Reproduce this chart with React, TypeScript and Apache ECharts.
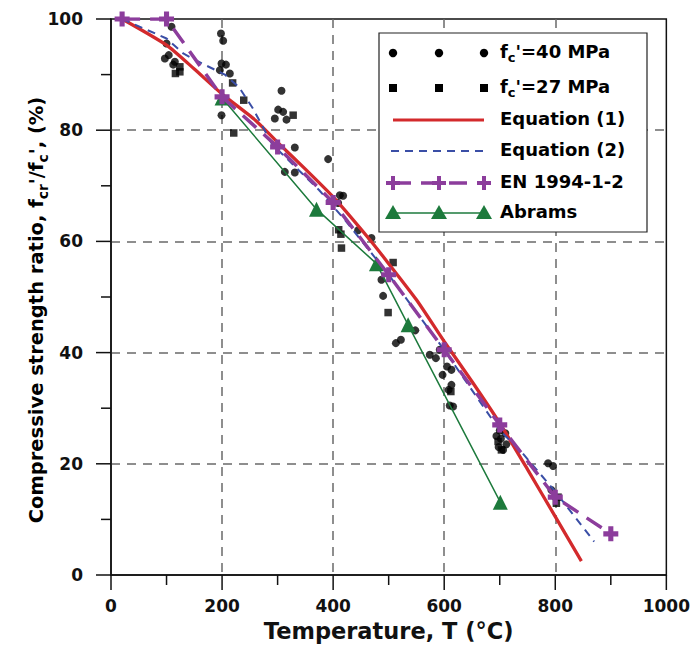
import React, { useEffect, useRef } from 'react';
import * as echarts from 'echarts';

// Test data, f_c' = 40 MPa (circles): [temperature °C, ratio %]
const fc40Data: [number, number][] = [
  [109, 98.6], [100, 95.6], [97, 92.9], [104, 93.5], [115, 92.3], [112, 91.8],
  [198, 97.4], [202, 96.1], [199, 92], [207, 91.8], [196, 90.8], [214, 90.2], [199, 82.7],
  [307, 87.1], [301, 83.7], [310, 83.3], [295, 82.1], [316, 81.9], [331, 76.9], [313, 72.5], [331, 72.4],
  [391, 74.8], [412, 68.3], [418, 68.2], [409, 66.9], [445, 62], [469, 60.6],
  [487, 53.1], [490, 50.2], [513, 41.7], [522, 42.3], [548, 44],
  [574, 39.6], [585, 39], [592, 40.5], [597, 36], [605, 37.5], [613, 36.9], [613, 34.2], [608, 33.3], [616, 30.3], [610, 30.5],
  [694, 25], [698, 23], [702, 24.5], [706, 22.5], [710, 25.5], [700, 26], [712, 23.5],
  [787, 20.1], [796, 19.6], [793, 15.3], [800, 14],
];

// Test data, f_c' = 27 MPa (squares)
const fc27Data: [number, number][] = [
  [124, 91.4], [116, 90.2], [124, 90.5],
  [219, 88.5], [239, 85.4], [221, 79.5],
  [328, 82.7],
  [414, 61.3], [410, 62.1], [415, 58.8], [508, 56.2], [499, 47.2],
  [612, 33],
  [697, 24], [703, 22.5],
  [802, 12.9], [805, 14],
];

const eq1Data: [number, number][] = [
  [20, 100], [100, 95.3], [150, 91], [200, 86.5], [260, 81.8], [300, 77.8], [350, 73],
  [400, 68], [466, 60.3], [500, 56], [550, 49.5], [600, 42], [650, 34.8], [700, 27.3],
  [750, 19], [800, 10.5], [847, 2.5],
];

const eq2Data: [number, number][] = [
  [20, 100], [100, 96.5], [130, 93.8], [170, 91.7], [205, 90], [230, 87.8], [255, 84],
  [290, 77.5], [375, 69.2], [420, 64], [500, 54], [600, 40.5], [700, 26], [736, 22.5],
  [800, 15], [870, 6],
];

const enData: [number, number][] = [
  [20, 100], [100, 100], [200, 86], [300, 77], [400, 67], [500, 54], [600, 40.5],
  [700, 27], [800, 14], [900, 7.4],
];

const abramsData: [number, number][] = [
  [200, 85.8], [370, 65.8], [478, 56], [535, 45], [701, 13.1],
];

// Axis ticks
const xMajorTicks = [0, 200, 400, 600, 800, 1000];
const xMinorTicks = [100, 300, 500, 700, 900];
const yMajorTicks = [0, 20, 40, 60, 80, 100];
const yMinorTicks = [10, 30, 50, 70, 90];

const legendLabels = [
  "{m|f}{s|c}{m|'=40 MPa}",
  "{m|f}{s|c}{m|'=27 MPa}",
  '{m|Equation (1)}',
  '{m|Equation (2)}',
  '{m|EN 1994-1-2}',
  '{m|Abrams}',
];

const xAxisName = 'Temperature, T (°C)';
const yAxisName = "{m|Compressive strength ratio, f}{s|cr}{m|'/f}{s|c}{m|', (%)}";

const FONT = 'DejaVu Sans';
const RED = '#d32a2c';
const BLUE = '#3a4ea6';
const PURPLE = '#8c3d9c';
const GREEN = '#1d7a3c';
const CROSS = 'path://M3.3,0H6.7V3.3H10V6.7H6.7V10H3.3V6.7H0V3.3H3.3Z';

function tickSeries(values: number[], horizontal: boolean, len: number) {
  return {
    type: 'custom',
    name: horizontal ? 'x ticks' : 'y ticks',
    coordinateSystem: 'cartesian2d',
    data: values.map((v) => (horizontal ? [v, 0] : [0, v])),
    clip: false,
    silent: true,
    z: 8,
    renderItem: (_params: any, api: any) => {
      const p = api.coord([api.value(0), api.value(1)]);
      const x = horizontal ? p[0] - 0.75 : p[0] - len;
      const y = horizontal ? p[1] : p[1] - 0.75;
      return {
        type: 'rect',
        shape: { x, y, width: horizontal ? 1.5 : len, height: horizontal ? len : 1.5 },
        style: { fill: '#111' },
      };
    },
  };
}

export default function App() {
  const ref = useRef<HTMLDivElement>(null);
  useEffect(() => {
    document.body.style.margin = '0';
    const chart = echarts.init(ref.current!, null, { renderer: 'svg' });

    const richText = {
      m: { fontFamily: FONT, fontWeight: 'bold', fontSize: 18, color: '#111', verticalAlign: 'top', lineHeight: 22 },
      s: { fontFamily: FONT, fontWeight: 'bold', fontSize: 13, color: '#111', verticalAlign: 'bottom', lineHeight: 13, padding: [14, 0, 0, 0] },
    };
    const richTitle = {
      m: { ...richText.m, fontSize: 19.5, lineHeight: 23 },
      s: { ...richText.s, fontSize: 14, lineHeight: 14, padding: [14, 0, 0, 0] },
    };

    const lx = [393, 439, 484];
    const rows = [53, 88, 120, 151, 183, 213];
    const legendEls: any[] = [];
    legendEls.push({
      type: 'rect', shape: { x: 379, y: 33, width: 268, height: 199 },
      style: { fill: '#fff', stroke: '#222', lineWidth: 1.2 }, z: 100,
    });
    lx.forEach((x) => {
      legendEls.push({ type: 'circle', shape: { cx: x, cy: rows[0], r: 4.2 }, style: { fill: '#000' }, z: 101 });
      legendEls.push({ type: 'rect', shape: { x: x - 4, y: rows[1] - 4, width: 8, height: 8 }, style: { fill: '#000' }, z: 101 });
    });
    legendEls.push({ type: 'line', shape: { x1: lx[0], y1: rows[2], x2: lx[2], y2: rows[2] }, style: { stroke: RED, lineWidth: 3 }, z: 101 });
    legendEls.push({ type: 'line', shape: { x1: lx[0] - 2, y1: rows[3], x2: lx[2] + 2, y2: rows[3] }, style: { stroke: BLUE, lineWidth: 2, lineDash: [8, 6] }, z: 101 });
    legendEls.push({ type: 'line', shape: { x1: lx[0], y1: rows[4], x2: lx[2], y2: rows[4] }, style: { stroke: PURPLE, lineWidth: 3.5, lineDash: [18, 10] }, z: 101 });
    lx.forEach((x) => {
      legendEls.push({ type: 'rect', shape: { x: x - 7, y: rows[4] - 2, width: 14, height: 4 }, style: { fill: PURPLE }, z: 102 });
      legendEls.push({ type: 'rect', shape: { x: x - 2, y: rows[4] - 7, width: 4, height: 14 }, style: { fill: PURPLE }, z: 102 });
    });
    legendEls.push({ type: 'line', shape: { x1: lx[0], y1: rows[5], x2: lx[2], y2: rows[5] }, style: { stroke: GREEN, lineWidth: 1.5 }, z: 101 });
    lx.forEach((x) => {
      legendEls.push({ type: 'polygon', shape: { points: [[x, rows[5] - 8], [x + 8, rows[5] + 6], [x - 8, rows[5] + 6]] }, style: { fill: GREEN }, z: 102 });
    });
    legendLabels.forEach((t, i) => {
      legendEls.push({
        type: 'text', x: 500, y: rows[i] - 11,
        style: { text: t, rich: richText, align: 'left', verticalAlign: 'top' }, z: 103,
      });
    });
    // y axis title (rotated)
    legendEls.push({
      type: 'text', x: 38, y: 310, rotation: Math.PI / 2,
      style: { text: yAxisName, rich: richTitle, align: 'center', verticalAlign: 'middle' }, z: 103,
    });

    const option: any = {
      animation: false,
      backgroundColor: '#fff',
      grid: {
        left: 111, top: 19, right: 26, bottom: 82, containLabel: false,
        show: true, borderColor: '#111', borderWidth: 1.5, backgroundColor: 'transparent',
      },
      xAxis: {
        type: 'value', min: 0, max: 1000, interval: 200, position: 'bottom',
        name: xAxisName, nameLocation: 'middle', nameGap: 44,
        nameTextStyle: { fontFamily: FONT, fontWeight: 'bold', fontSize: 22.5, color: '#111' },
        axisLine: { show: true, onZero: false, lineStyle: { color: '#111', width: 1.5 } },
        axisTick: { show: false },
        axisLabel: { show: true, fontFamily: FONT, fontWeight: 'bold', fontSize: 17, color: '#111', margin: 22, formatter: (v: number) => String(v) },
        splitLine: { show: true, showMinLine: false, showMaxLine: false, lineStyle: { color: '#6a6a6a', width: 1.5, type: [9, 7] } },
      },
      yAxis: {
        type: 'value', min: 0, max: 100, interval: 20, position: 'left',
        axisLine: { show: true, onZero: false, lineStyle: { color: '#111', width: 1.5 } },
        axisTick: { show: false },
        axisLabel: { show: true, fontFamily: FONT, fontWeight: 'bold', fontSize: 17, color: '#111', margin: 28 },
        splitLine: { show: true, showMinLine: false, showMaxLine: false, lineStyle: { color: '#6a6a6a', width: 1.5, type: [9, 7] } },
      },
      series: [
        { type: 'scatter', name: "fc'=40 MPa", data: fc40Data, symbol: 'circle', symbolSize: 8, itemStyle: { color: '#000' }, z: 2 },
        { type: 'scatter', name: "fc'=27 MPa", data: fc27Data, symbol: 'rect', symbolSize: 7.5, itemStyle: { color: '#000' }, z: 2 },
        { type: 'line', name: 'Abrams', data: abramsData, symbol: 'triangle', symbolSize: 15, itemStyle: { color: GREEN }, lineStyle: { color: GREEN, width: 1.5 }, z: 3 },
        { type: 'line', name: 'Equation (1)', data: eq1Data, showSymbol: false, smooth: 0.2, lineStyle: { color: RED, width: 3.3 }, z: 4 },
        { type: 'line', name: 'Equation (2)', data: eq2Data, showSymbol: false, lineStyle: { color: BLUE, width: 2, type: [8, 6] }, z: 5 },
        { type: 'line', name: 'EN 1994-1-2', data: enData, symbol: CROSS, symbolSize: 15, itemStyle: { color: PURPLE }, lineStyle: { color: PURPLE, width: 3.5, type: [18, 10] }, z: 6 },
        tickSeries(xMajorTicks, true, 15),
        tickSeries(xMinorTicks, true, 10),
        tickSeries(yMajorTicks, false, 15),
        tickSeries(yMinorTicks, false, 10),
      ],
      graphic: legendEls,
    };
    chart.setOption(option);
    return () => chart.dispose();
  }, []);
  return <div ref={ref} style={{ width: 693, height: 657, position: 'absolute', left: 0, top: 0 }} />;
}
